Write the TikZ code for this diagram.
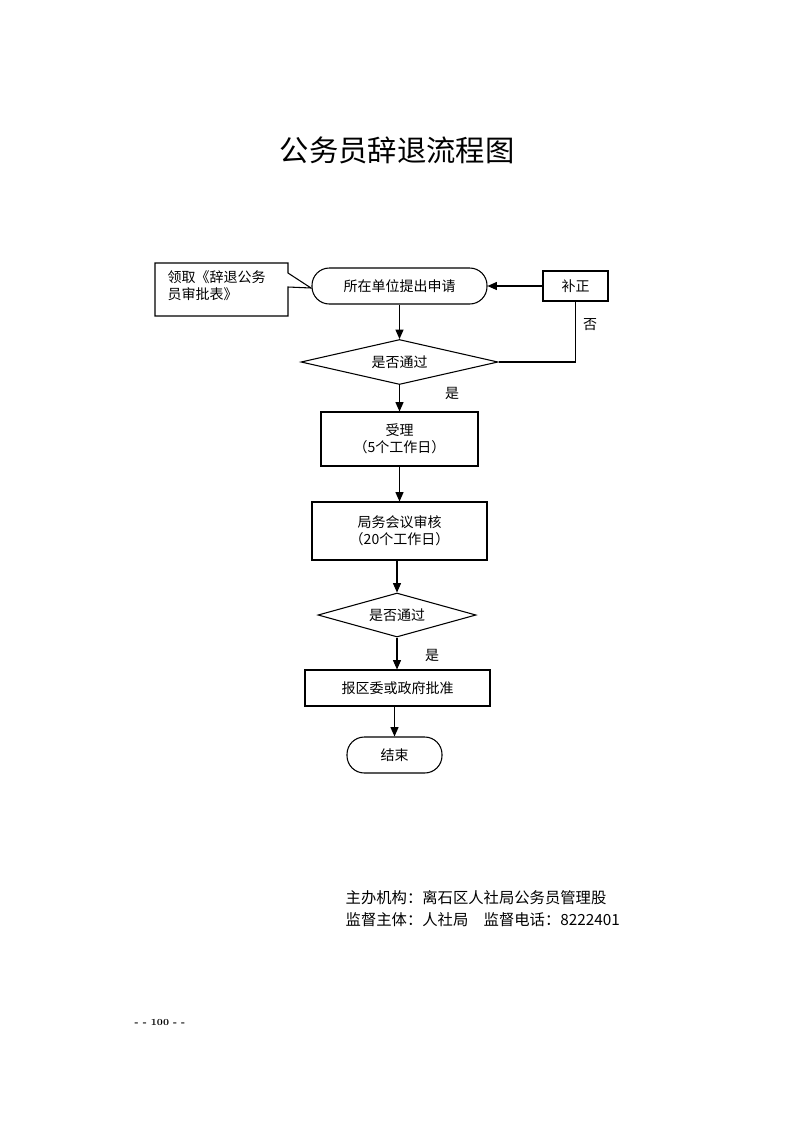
\documentclass[tikz,border=0pt]{standalone}
\usepackage{fontspec}
\newfontfamily\cjk{Noto Sans CJK SC}
\usetikzlibrary{shapes.geometric,arrows.meta}
\begin{document}
\begin{tikzpicture}[x=0.75pt,y=-0.75pt,
  every node/.style={font=\cjk\fontsize{10.5pt}{13pt}\selectfont},
  box/.style={draw,thick,rectangle,inner sep=0},
  arr/.style={thick,-{Triangle[length=7pt,width=6pt]}},
  ln/.style={thick}]
\useasboundingbox (0,0) rectangle (793,1122);
\node at (397,150) {\cjk\fontsize{22pt}{26pt}\selectfont 公务员辞退流程图};
% callout
\draw[ln] (288,273) -- (288,263) -- (155,263) -- (155,316) -- (288,316) -- (288,287) -- (311,288) -- cycle;
\node[align=left,anchor=north west] (call) at (163,266) {领取《辞退公务\\员审批表》};
\node[box,rounded corners=13pt,minimum width=175*0.75pt,minimum height=36*0.75pt] (apply) at (399.5,286) {所在单位提出申请};
\node[box,minimum width=65*0.75pt,minimum height=30*0.75pt] (fix) at (575.5,286) {补正};
\node[draw,thick,diamond,aspect=4.4,inner sep=0,minimum width=197*0.75pt,minimum height=45*0.75pt] (d1) at (399.5,362) {是否通过};
\node[box,minimum width=157*0.75pt,minimum height=54*0.75pt,align=center] (acc) at (399.5,439) {受理\\（5个工作日）};
\node[box,minimum width=175*0.75pt,minimum height=58*0.75pt,align=center] (meet) at (399.5,531) {局务会议审核\\（20个工作日）};
\node[draw,thick,diamond,aspect=3.6,inner sep=0,minimum width=158*0.75pt,minimum height=44*0.75pt] (d2) at (397,615) {是否通过};
\node[box,minimum width=185*0.75pt,minimum height=36*0.75pt] (rep) at (397.5,688) {报区委或政府批准};
\node[box,rounded corners=13pt,minimum width=95*0.75pt,minimum height=36*0.75pt] (end) at (394.5,755) {结束};
\draw[arr] (fix.west) -- (apply.east);
\draw[arr] (apply.south) -- (d1.north);
\draw[ln] (d1.east) -| (fix.south);
\node at (590,325) {否};
\draw[arr] (d1.south) -- (acc.north);
\node at (452,393) {是};
\draw[arr] (acc.south) -- (meet.north);
\draw[arr] (meet.south -| d2.north) -- (d2.north);
\draw[arr] (d2.south) -- (d2.south |- rep.north);
\node at (432,655) {是};
\draw[arr] (rep.south -| end.north) -- (end.north);
\node[anchor=west] (f1) at (341,898) {\fontsize{11.5pt}{14pt}\selectfont 主办机构：离石区人社局公务员管理股};
\node[anchor=west] (f2) at (341,920) {\fontsize{11.5pt}{14pt}\selectfont 监督主体：人社局\quad 监督电话：8222401};
\node[font=\bfseries\fontsize{7pt}{8pt}\selectfont] (pg) at (160,1022) {- - 100 - -};
\end{tikzpicture}
\end{document}
